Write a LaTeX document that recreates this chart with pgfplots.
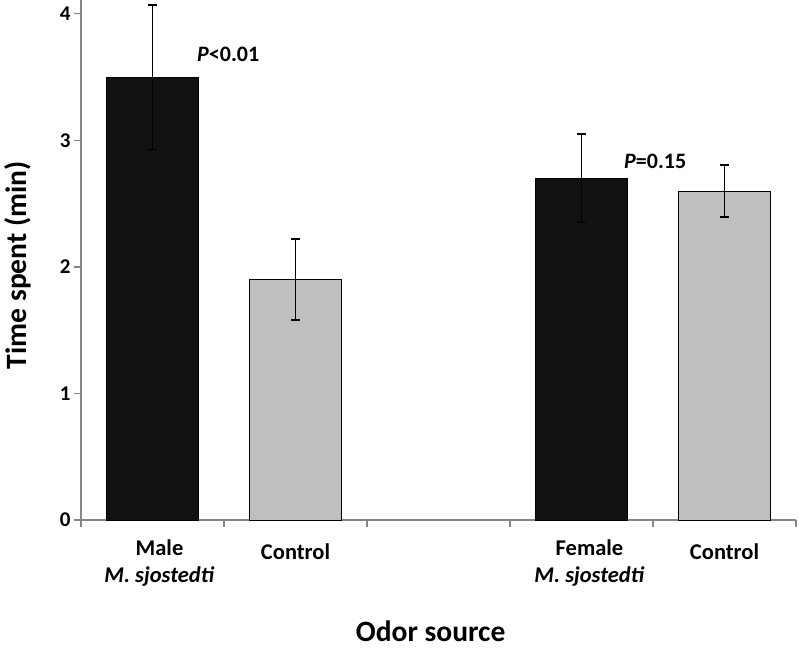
\documentclass[border=0pt]{standalone}
\usepackage{pgfplots}
\pgfplotsset{compat=1.18}
\usepackage{fontspec}
\setmainfont{Carlito}
\definecolor{axgray}{RGB}{134,134,134}
\definecolor{barblack}{RGB}{17,17,17}
\definecolor{bargray}{RGB}{191,191,191}
\begin{document}
\begin{tikzpicture}
\path[use as bounding box] (-81pt,-131pt) rectangle (718pt,520pt);
\begin{axis}[
 at={(0,0)}, anchor=south west,
 scale only axis, width=715pt, height=520pt,
 xmin=0, xmax=5, ymin=0, ymax=4.11,
 axis lines*=left,
 axis line style={axgray, line width=1.1pt},
 xtick={0,1,2,3,4,5},
 xticklabels={{\hspace*{14pt}Male\\\hspace*{14pt}\textit{M. sjostedti}}, {\rule{0pt}{20pt}Control}, {}, {\hspace*{16pt}Female\\\hspace*{16pt}\textit{M. sjostedti}}, {\rule{0pt}{20pt}Control}, {}},
 x tick label as interval,
 ytick={0,1,2,3,4},
 tick align=outside,
 major tick length=7pt,
 tick style={axgray, line width=1.1pt},
 xticklabel style={font=\fontsize{22.5}{27.5}\selectfont\bfseries, align=center, yshift=-9pt},
 yticklabel style={font=\fontsize{21}{24}\selectfont\bfseries},
 /pgf/number format/assume math mode=true,
 ylabel={Time spent (min)},
 xlabel={Odor source},
 ylabel style={font=\fontsize{29.5}{34}\selectfont\bfseries, at={(axis description cs:-0.088,0.49)}, anchor=center},
 xlabel style={font=\fontsize{29.5}{34}\selectfont\bfseries, at={(axis description cs:0.489,-0.2135)}, anchor=center},
 ybar, bar width=0.64,
 clip=false,
]
\addplot[draw=black, fill=barblack, line width=0.9pt, bar shift=0pt,
  error bars/.cd, y dir=both, y explicit, error mark=-,
  error bar style={black, solid, line width=1.3pt},
  error mark options={rotate=90, black, solid, mark size=4.5pt, line width=1.3pt}]
  coordinates {(0.5,3.5) +- (0,0.57) (3.5,2.7) +- (0,0.35)};
\addplot[draw=black, fill=bargray, line width=0.9pt, bar shift=0pt,
  error bars/.cd, y dir=both, y explicit, error mark=-,
  error bar style={black, solid, line width=1.3pt},
  error mark options={rotate=90, black, solid, mark size=4.5pt, line width=1.3pt}]
  coordinates {(1.5,1.9) +- (0,0.32) (4.5,2.6) +- (0,0.205)};
\node[anchor=base west, inner sep=0pt, font=\fontsize{22}{24}\selectfont\bfseries] at (axis cs:0.811,3.62) {\textit{P}<0.01};
\node[anchor=base west, inner sep=0pt, font=\fontsize{22}{24}\selectfont\bfseries] at (axis cs:3.797,2.78) {\textit{P}=0.15};
\end{axis}
\end{tikzpicture}
\end{document}
